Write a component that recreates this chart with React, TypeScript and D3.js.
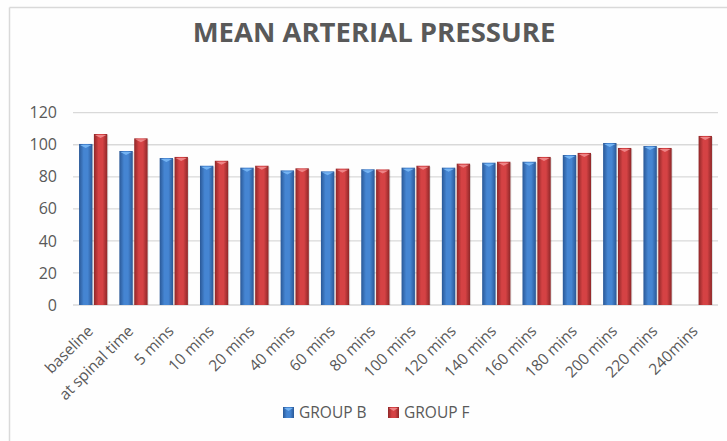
import React from 'react';
import * as d3 from 'd3';

const width = 727;
const height = 441;
const margin = { top: 112.7, right: 9, bottom: 136, left: 73 };

const categories = [
    'baseline', 'at spinal time', '5 mins', '10 mins', '20 mins', '40 mins',
    '60 mins', '80 mins', '100 mins', '120 mins', '140 mins', '160 mins',
    '180 mins', '200 mins', '220 mins', '240mins',
];
const groupB: (number | null)[] = [
    100.5, 96.1, 91.7, 86.9, 85.7, 84.0, 83.4, 84.7, 85.7, 85.7, 88.8, 89.4, 93.6, 101.1, 99.2, null,
];
const groupF: (number | null)[] = [
    106.7, 104.0, 92.4, 90.0, 86.9, 85.3, 85.1, 84.6, 86.9, 88.2, 89.4, 92.4, 94.9, 98.0, 98.0, 105.5,
];
const series = [
    { name: 'GROUP B', values: groupB, id: 'b', edge: '#2a5896', mid: '#4585d2', bevel: '#74b3f2' },
    { name: 'GROUP F', values: groupF, id: 'f', edge: '#8e2728', mid: '#d54244', bevel: '#ee8486' },
];
const yTicks = [0, 20, 40, 60, 80, 100, 120];

const font = '"Open Sans", sans-serif';
const textColor = '#595959';

export const App = () => {
    const x = d3.scaleBand<string>()
        .domain(categories)
        .range([margin.left, width - margin.right])
        .paddingInner(0.3)
        .paddingOuter(0.15);
    const inner = d3.scaleBand<string>()
        .domain(series.map(s => s.id))
        .range([0, x.bandwidth()])
        .paddingInner(0.1);
    const y = d3.scaleLinear()
        .domain([0, 120])
        .range([height - margin.bottom, margin.top]);

    const bw = inner.bandwidth();

    return (
        <svg width={width} height={height} style={{ display: 'block', position: 'absolute', left: 0, top: 0 }}>
            <defs>
                {series.map(s => (
                    <linearGradient key={s.id} id={`grad-${s.id}`} x1="0" x2="1" y1="0" y2="0">
                        <stop offset="0%" stopColor={s.edge} />
                        <stop offset="35%" stopColor={s.mid} />
                        <stop offset="65%" stopColor={s.mid} />
                        <stop offset="100%" stopColor={s.edge} />
                    </linearGradient>
                ))}
            </defs>
            <rect x={0} y={0} width={width} height={height} fill="#fefefe" />
            {/* chart frame */}
            <line x1={9.5} x2={width} y1={7.5} y2={7.5} stroke="#d9d9d9" strokeWidth={1.5} />
            <line x1={9.5} x2={9.5} y1={7.5} y2={height} stroke="#d9d9d9" strokeWidth={1.5} />

            <text x={374} y={42} textAnchor="middle" fontFamily={font} fontWeight="bold"
                fontSize={27.5} fill={textColor}>MEAN ARTERIAL PRESSURE</text>

            {yTicks.map(t => (
                <g key={t}>
                    <line x1={margin.left} x2={width - margin.right} y1={y(t)} y2={y(t)}
                        stroke="#d9d9d9" strokeWidth={1.3} />
                    <text x={57} y={y(t)} dy="0.35em" textAnchor="end" fontFamily={font}
                        fontSize={16} fill={textColor}>{t}</text>
                </g>
            ))}

            {categories.map((c, i) => (
                <g key={c}>
                    {series.map(s => {
                        const v = s.values[i];
                        if (v == null) return null;
                        const bx = (x(c) ?? 0) + (inner(s.id) ?? 0);
                        const by = y(v);
                        const bh = y(0) - by;
                        return (
                            <g key={s.id}>
                                <rect x={bx + 1} y={by + 1} width={bw} height={bh - 1} fill="#000" opacity={0.12} />
                                <rect x={bx} y={by} width={bw} height={bh} fill={`url(#grad-${s.id})`} />
                                <path d={`M${bx + 1},${by + 1}L${bx + bw - 1},${by + 1}L${bx + bw / 2},${by + 4}Z`}
                                    fill={s.bevel} />
                            </g>
                        );
                    })}
                    <text
                        transform={`translate(${(x(c) ?? 0) + x.bandwidth() / 2 + 1},${y(0) + 27}) rotate(-45)`}
                        textAnchor="end" fontFamily={font} fontSize={15.5} fill={textColor}>{c}</text>
                </g>
            ))}

            {/* legend */}
            {series.map((s, i) => {
                const lx = i === 0 ? 283 : 388;
                return (
                    <g key={s.id}>
                        <rect x={lx} y={407} width={11} height={11} fill={`url(#grad-${s.id})`} />
                        <path d={`M${lx + 1},${408}L${lx + 10},${408}L${lx + 5.5},${411}Z`} fill={s.bevel} />
                        <text x={lx + 16} y={413} dy="0.35em" fontFamily={font} fontSize={15.5}
                            fill={textColor}>{s.name}</text>
                    </g>
                );
            })}
        </svg>
    );
};

export default App;
